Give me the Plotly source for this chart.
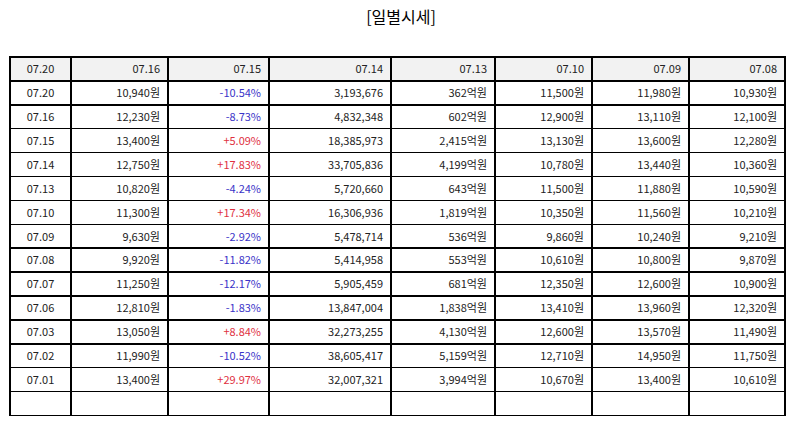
import plotly.graph_objects as go

# header labels (as shown in the reference)
headers = ['07.20', '07.16', '07.15', '07.14', '07.13', '07.10', '07.09', '07.08']

dates = ['07.20', '07.16', '07.15', '07.14', '07.13', '07.10', '07.09',
         '07.08', '07.07', '07.06', '07.03', '07.02', '07.01']
close = [10940, 12230, 13400, 12750, 10820, 11300, 9630, 9920, 11250, 12810, 13050, 11990, 13400]
change_pct = [-10.54, -8.73, 5.09, 17.83, -4.24, 17.34, -2.92, -11.82, -12.17, -1.83, 8.84, -10.52, 29.97]
volume = [3193676, 4832348, 18385973, 33705836, 5720660, 16306936, 5478714,
          5414958, 5905459, 13847004, 32273255, 38605417, 32007321]
amount_eok = [362, 602, 2415, 4199, 643, 1819, 536, 553, 681, 1838, 4130, 5159, 3994]
open_price = [11500, 12900, 13130, 10780, 11500, 10350, 9860, 10610, 12350, 13410, 12600, 12710, 10670]
high = [11980, 13110, 13600, 13440, 11880, 11560, 10240, 10800, 12600, 13960, 13570, 14950, 13400]
low = [10930, 12100, 12280, 10360, 10590, 10210, 9210, 9870, 10900, 12320, 11490, 11750, 10610]

RED = '#e0313f'
BLUE = '#3a33c8'
FONT = 'Noto Sans CJK KR'


def won(vals):
    return [f'{v:,}원' for v in vals] + ['']


pct_text = [f'{v:+.2f}%' for v in change_pct] + ['']
pct_color = [RED if v > 0 else BLUE for v in change_pct] + ['black']
black = ['#222222'] * (len(dates) + 1)

columns = [
    dates + [''],
    won(close),
    pct_text,
    [f'{v:,}' for v in volume] + [''],
    [f'{v:,}억원' for v in amount_eok] + [''],
    won(open_price),
    won(high),
    won(low),
]

fig = go.Figure(go.Table(
    columnwidth=[61, 97, 101, 122, 104, 97, 97, 96],
    header=dict(
        values=headers,
        fill_color='#f2f2f2',
        line=dict(color='black', width=1.5),
        align=['center'] + ['right'] * 7,
        font=dict(family=FONT, size=11, color='#222222'),
        height=23.9,
    ),
    cells=dict(
        values=columns,
        fill_color='white',
        line=dict(color='black', width=1.5),
        align=['center'] + ['right'] * 7,
        font=dict(family=FONT, size=11,
                  color=[black, black, pct_color, black, black, black, black, black]),
        height=23.9,
    ),
))

# the page body adds an 8px margin, so the figure is a bit smaller than the window
fig.update_layout(
    title=dict(text='[일별시세]', x=0.5, xanchor='center', y=0.99, yanchor='top',
               font=dict(family=FONT, size=16, color='black')),
    width=786,
    height=417,
    margin=dict(l=2, r=9, t=49, b=8),
    paper_bgcolor='white',
)

fig.write_html("out.html")
